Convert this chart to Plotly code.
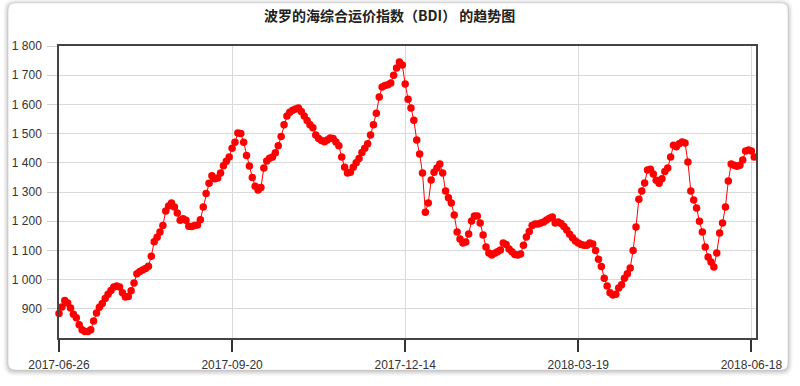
import plotly.graph_objects as go

title_text = "波罗的海综合运价指数（BDI） 的趋势图"

bdi_values = [
    884, 906, 928, 920, 903, 881, 869, 845, 828, 822,
    822, 828, 858, 886, 905, 918, 935, 950, 963, 975,
    978, 975, 955, 940, 942, 962, 988, 1020, 1028, 1033,
    1038, 1046, 1080, 1130, 1145, 1163, 1185, 1235, 1252, 1262,
    1249, 1228, 1203, 1208, 1203, 1183, 1182, 1185, 1187, 1205,
    1249, 1295, 1330, 1356, 1345, 1348, 1365, 1390, 1405, 1420,
    1450, 1470, 1502, 1500, 1470, 1425, 1389, 1350, 1320, 1307,
    1315, 1382, 1406, 1416, 1420, 1434, 1458, 1490, 1530, 1560,
    1573, 1580, 1584, 1588, 1576, 1560, 1545, 1530, 1520, 1495,
    1483, 1476, 1472, 1478, 1485, 1483, 1471, 1458, 1420, 1385,
    1365, 1368, 1385, 1400, 1415, 1435, 1450, 1465, 1495, 1530,
    1570, 1625, 1660, 1665, 1667, 1673, 1700, 1725, 1745, 1735,
    1670, 1618, 1588, 1546, 1478, 1430, 1365, 1231, 1262, 1341,
    1368, 1382, 1396, 1365, 1303, 1280, 1262, 1221, 1163, 1139,
    1125, 1129, 1156, 1201, 1218, 1218, 1194, 1153, 1112, 1091,
    1084, 1090, 1095, 1101, 1125, 1120, 1105, 1095, 1086, 1084,
    1088, 1118, 1146, 1165, 1185, 1190, 1190, 1194, 1197, 1204,
    1210, 1214, 1194, 1197, 1192, 1182, 1170, 1155, 1143, 1132,
    1125, 1120, 1118, 1118, 1125, 1122, 1100, 1070, 1045, 1005,
    978, 955, 947, 950, 971, 982, 1005, 1020, 1040, 1100,
    1180, 1275, 1303, 1331, 1375, 1378, 1362, 1340, 1330, 1345,
    1370, 1382, 1420, 1460, 1455, 1465, 1471, 1468, 1403, 1303,
    1273, 1245, 1200, 1163, 1112, 1077, 1060, 1043, 1091, 1160,
    1194, 1249, 1338, 1396, 1392, 1388, 1392, 1410, 1440, 1444,
    1440, 1420,
]

x_tick_positions = [0, 60, 120, 180, 240]
x_tick_labels = ["2017-06-26", "2017-09-20", "2017-12-14", "2018-03-19", "2018-06-18"]
y_tick_values = [900, 1000, 1100, 1200, 1300, 1400, 1500, 1600, 1700, 1800]

x_index = list(range(len(bdi_values)))

W, H = 800, 386
ML, MR, MT, MB = 57, 44, 46, 48
PW, PH = W - ML - MR, H - MT - MB


def fx(px):
    return (px - ML) / PW


def fy(py):
    return (H - MB - py) / PH


def rounded_path(x0, y0, x1, y1, r):
    pts = [
        f"M {fx(x0 + r)} {fy(y0)}",
        f"L {fx(x1 - r)} {fy(y0)}",
        f"Q {fx(x1)} {fy(y0)} {fx(x1)} {fy(y0 + r)}",
        f"L {fx(x1)} {fy(y1 - r)}",
        f"Q {fx(x1)} {fy(y1)} {fx(x1 - r)} {fy(y1)}",
        f"L {fx(x0 + r)} {fy(y1)}",
        f"Q {fx(x0)} {fy(y1)} {fx(x0)} {fy(y1 - r)}",
        f"L {fx(x0)} {fy(y0 + r)}",
        f"Q {fx(x0)} {fy(y0)} {fx(x0 + r)} {fy(y0)}",
        "Z",
    ]
    return " ".join(pts)


shapes = []
for k, a in [(5, 0.025), (4, 0.03), (3, 0.035), (2, 0.04), (1, 0.05)]:
    shapes.append(dict(
        type="path", xref="paper", yref="paper", layer="below",
        path=rounded_path(6 - k, 3 - k + 1, 788 + k, 370 + k + 1, 7 + k),
        fillcolor=f"rgba(0,0,0,{a})", line=dict(width=0),
    ))
shapes.append(dict(
    type="path", xref="paper", yref="paper", layer="below",
    path=rounded_path(6, 3, 788, 370, 7),
    fillcolor="white", line=dict(color="rgba(0,0,0,0.08)", width=1),
))

fig = go.Figure()
fig.add_trace(go.Scatter(
    x=x_index, y=bdi_values, mode="lines+markers",
    line=dict(color="#ff0000", width=1),
    marker=dict(color="#ff0000", size=7.5, line=dict(width=0)),
    cliponaxis=False, showlegend=False, hoverinfo="y",
))

fig.update_layout(
    width=W, height=H,
    margin=dict(l=ML, r=MR, t=MT, b=MB, pad=0),
    paper_bgcolor="white",
    plot_bgcolor="rgba(0,0,0,0)",
    separators=". ",
    shapes=shapes,
    font=dict(family="Liberation Sans, Arial, sans-serif", size=12, color="#333333"),
    annotations=[dict(
        text=f"<b>{title_text}</b>", xref="paper", yref="paper",
        x=fx(388), y=fy(15), xanchor="center", yanchor="middle",
        showarrow=False,
        font=dict(family="Noto Sans CJK SC, sans-serif", size=14, color="#222222"),
    )],
    xaxis=dict(
        range=[0, 241.6],
        tickmode="array", tickvals=x_tick_positions, ticktext=x_tick_labels,
        showgrid=True, gridcolor="#d9d9d9", gridwidth=1,
        ticks="outside", ticklen=12, tickcolor="#333333", tickwidth=1.5,
        showline=True, linecolor="#444444", linewidth=1.5, mirror=True,
        zeroline=False, ticklabelstandoff=3,
        tickfont=dict(size=12, color="#333333"),
    ),
    yaxis=dict(
        range=[800, 1800],
        tickmode="array", tickvals=y_tick_values, tickformat=",d",
        showgrid=True, gridcolor="#d9d9d9", gridwidth=1,
        ticks="outside", ticklen=10, tickcolor="#d0d0d0", tickwidth=1,
        showline=True, linecolor="#444444", linewidth=1.5, mirror=True,
        zeroline=False, ticklabelstandoff=3,
        tickfont=dict(size=12, color="#333333"),
    ),
)

fig.write_html("out.html")
